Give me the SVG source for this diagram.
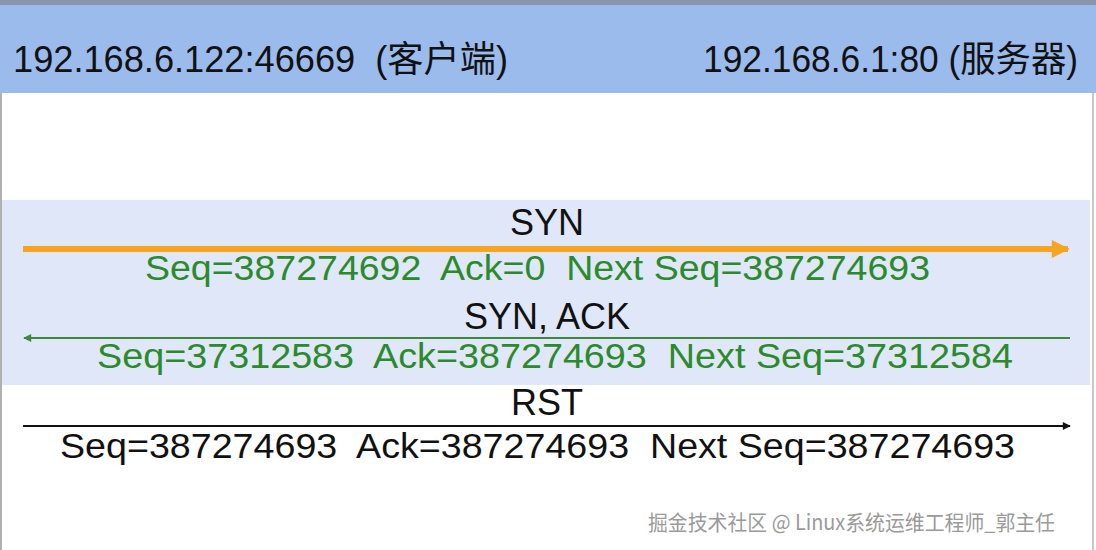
<svg xmlns="http://www.w3.org/2000/svg" width="1096" height="550" viewBox="0 0 1096 550">
<defs>
<style>
.t{font-family:"Liberation Sans","Open Sans","Noto Sans CJK SC",sans-serif;}
.hdr{font-size:36px;fill:#111;}
.lbl{font-size:36px;fill:#111;}
.grn{font-size:35px;fill:#2b8a2b;}
.blk{font-size:35px;fill:#111;}
.wm{font-family:"Noto Sans CJK SC","Noto Sans",sans-serif;font-size:21px;fill:#9a9a9a;}
</style>
<marker id="aO" viewBox="0 0 10 10" refX="9" refY="5" markerWidth="3.2" markerHeight="3" orient="auto" markerUnits="strokeWidth"><path d="M0,0 L10,5 L0,10 z" fill="#f5a51f"/></marker>
<marker id="aG" viewBox="0 0 10 10" refX="9" refY="5" markerWidth="6" markerHeight="4" orient="auto" markerUnits="strokeWidth"><path d="M0,0 L10,5 L0,10 z" fill="#3a8a3a"/></marker>
<marker id="aB" viewBox="0 0 10 10" refX="9" refY="5" markerWidth="6" markerHeight="4" orient="auto" markerUnits="strokeWidth"><path d="M0,0 L10,5 L0,10 z" fill="#111"/></marker>
</defs>
<rect x="0" y="0" width="1096" height="550" fill="#ffffff"/>
<rect x="0" y="0" width="1096" height="5" fill="#8796aa"/>
<rect x="0" y="5" width="1096" height="88" fill="#9bbbec"/>
<rect x="0" y="93" width="2" height="457" fill="#b0b0b0"/>
<rect x="1092" y="93" width="2" height="457" fill="#c8c8c8"/>
<rect x="2" y="200" width="1088" height="185" fill="#dfe7f8"/>
<g id="client"><text class="t hdr" x="13" y="72" textLength="495" lengthAdjust="spacingAndGlyphs" xml:space="preserve">192.168.6.122:46669  (客户端)</text></g>
<g id="server"><text class="t hdr" x="703" y="72" textLength="375" lengthAdjust="spacingAndGlyphs">192.168.6.1:80 (服务器)</text></g>
<g id="connectors">
<line x1="23" y1="249" x2="1068" y2="249" stroke="#f5a51f" stroke-width="6" marker-end="url(#aO)"/>
<line x1="1070" y1="338" x2="24" y2="338" stroke="#3a8a3a" stroke-width="2" marker-end="url(#aG)"/>
<line x1="23" y1="426" x2="1070" y2="426" stroke="#111" stroke-width="2" marker-end="url(#aB)"/>
</g>
<g id="syn">
<text class="t lbl" x="547" y="235" text-anchor="middle">SYN</text>
<text class="t grn" x="145" y="280" textLength="785" lengthAdjust="spacingAndGlyphs" xml:space="preserve">Seq=387274692  Ack=0  Next Seq=387274693</text>
</g>
<g id="synack">
<text class="t lbl" x="547" y="329" text-anchor="middle">SYN, ACK</text>
<text class="t grn" x="97" y="368" textLength="916" lengthAdjust="spacingAndGlyphs" xml:space="preserve">Seq=37312583  Ack=387274693  Next Seq=37312584</text>
</g>
<g id="rst">
<text class="t lbl" x="547" y="415" text-anchor="middle">RST</text>
<text class="t blk" x="60" y="458" textLength="955" lengthAdjust="spacingAndGlyphs" xml:space="preserve">Seq=387274693  Ack=387274693  Next Seq=387274693</text>
</g>
<text class="wm" x="648" y="530" textLength="407" lengthAdjust="spacingAndGlyphs">掘金技术社区 @ Linux系统运维工程师_郭主任</text>
</svg>
